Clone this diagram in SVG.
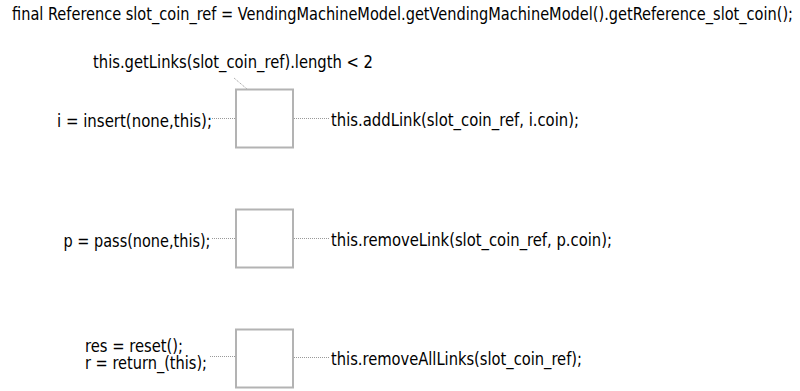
<svg xmlns="http://www.w3.org/2000/svg" width="800" height="391" viewBox="0 0 800 391">
<style>
text{font-family:"DejaVu Sans Condensed","DejaVu Sans",sans-serif;font-size:18px;fill:#000}
.sm{font-size:17px}
.box{fill:#fff;stroke:#b3b3b3;stroke-width:2}
.conn{stroke:#999;stroke-width:1;stroke-dasharray:1 1;fill:none}
</style>
<rect width="800" height="391" fill="#fff"/>
<text id="title" x="12" y="20" textLength="781" lengthAdjust="spacingAndGlyphs">final Reference slot_coin_ref = VendingMachineModel.getVendingMachineModel().getReference_slot_coin();</text>
<g id="connectors">
<path class="conn" d="M234 78 L247 89"/>
<path class="conn" d="M212 118.5 H236"/>
<path class="conn" d="M294 118.5 H330"/>
<path class="conn" d="M212 238.5 H236"/>
<path class="conn" d="M294 238.5 H330"/>
<path class="conn" d="M210 356.5 H236"/>
<path class="conn" d="M294 357.5 H330"/>
</g>
<g id="node1">
<rect class="box" x="236" y="89.5" width="57" height="58"/>
<text x="93" y="68" textLength="280" lengthAdjust="spacingAndGlyphs">this.getLinks(slot_coin_ref).length &lt; 2</text>
<text x="57" y="126.5" textLength="155" lengthAdjust="spacingAndGlyphs">i = insert(none,this);</text>
<text x="331" y="125.5" textLength="248" lengthAdjust="spacingAndGlyphs">this.addLink(slot_coin_ref, i.coin);</text>
</g>
<g id="node2">
<rect class="box" x="236" y="209.5" width="57" height="58"/>
<text x="63.5" y="246.5" textLength="147" lengthAdjust="spacingAndGlyphs">p = pass(none,this);</text>
<text x="331" y="245.5" textLength="281" lengthAdjust="spacingAndGlyphs">this.removeLink(slot_coin_ref, p.coin);</text>
</g>
<g id="node3">
<rect class="box" x="236" y="329.5" width="57" height="58"/>
<text class="sm" x="85" y="352" textLength="98" lengthAdjust="spacingAndGlyphs">res = reset();</text>
<text class="sm" x="85" y="369" textLength="122" lengthAdjust="spacingAndGlyphs">r = return_(this);</text>
<text x="331" y="364.5" textLength="251" lengthAdjust="spacingAndGlyphs">this.removeAllLinks(slot_coin_ref);</text>
</g>
</svg>
